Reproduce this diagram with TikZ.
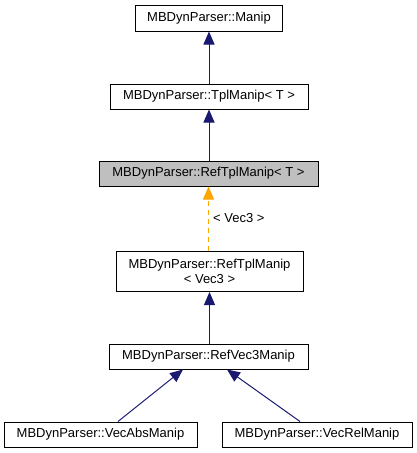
\documentclass[tikz,border=0pt]{standalone}
\usepackage{fontspec}
\setmainfont{Liberation Sans}
\usetikzlibrary{arrows.meta,calc}
\definecolor{navy}{HTML}{191970}
\definecolor{dorange}{HTML}{FFA500}
\definecolor{dgrey}{HTML}{BFBFBF}
\begin{document}
\begin{tikzpicture}[x=1pt,y=-1pt,
  cls/.style={draw=black,line width=1pt,fill=white,rectangle,inner sep=0pt,
    font=\fontsize{13}{15}\selectfont,align=center,minimum height=25pt},
  inh/.style={draw=navy,line width=1pt,-{Triangle[length=13pt,width=11pt,fill=navy]}},
  tpl/.style={draw=dorange,line width=1pt,dash pattern=on 5pt off 4pt,
    -{Triangle[length=13pt,width=11pt,fill=dorange]}},
  lbl/.style={font=\fontsize{13}{15}\selectfont,inner sep=0pt,anchor=west}]
\useasboundingbox[fill=white] (0,0) rectangle (417,453);
\node[cls,minimum width=147pt,minimum height=26pt] (manip) at (209,18) {MBDynParser::Manip};
\node[cls,minimum width=198pt] (tplm) at (209,96.5) {MBDynParser::TplManip< T >};
\node[cls,minimum width=219pt,fill=dgrey] (reft) at (208.5,173.5) {MBDynParser::RefTplManip< T >};
\node[cls,minimum width=187pt,minimum height=40pt] (refv) at (209.5,271.5) {MBDynParser::RefTplManip\\< Vec3 >};
\node[cls,minimum width=199pt] (rv3) at (208.5,356.5) {MBDynParser::RefVec3Manip};
\node[cls,minimum width=193pt] (vabs) at (100.5,434.5) {MBDynParser::VecAbsManip};
\node[cls,minimum width=190pt] (vrel) at (317,434.5) {MBDynParser::VecRelManip};
\draw[inh] (tplm.north -| manip.south) -- (manip.south);
\draw[inh] (reft.north -| tplm.south) -- (tplm.south);
\draw[tpl] (refv.north -| reft.south) -- (reft.south);
\node[lbl] (vlab) at (213,218) {< Vec3 >};
\draw[inh] (rv3.north -| refv.south) -- (refv.south);
\draw[inh] ($(vabs.north)+(17.5,0)$) -- ($(rv3.south)+(-25.5,0)$);
\draw[inh] ($(vrel.north)+(-17,0)$) -- ($(rv3.south)+(18.5,0)$);
\end{tikzpicture}
\end{document}
